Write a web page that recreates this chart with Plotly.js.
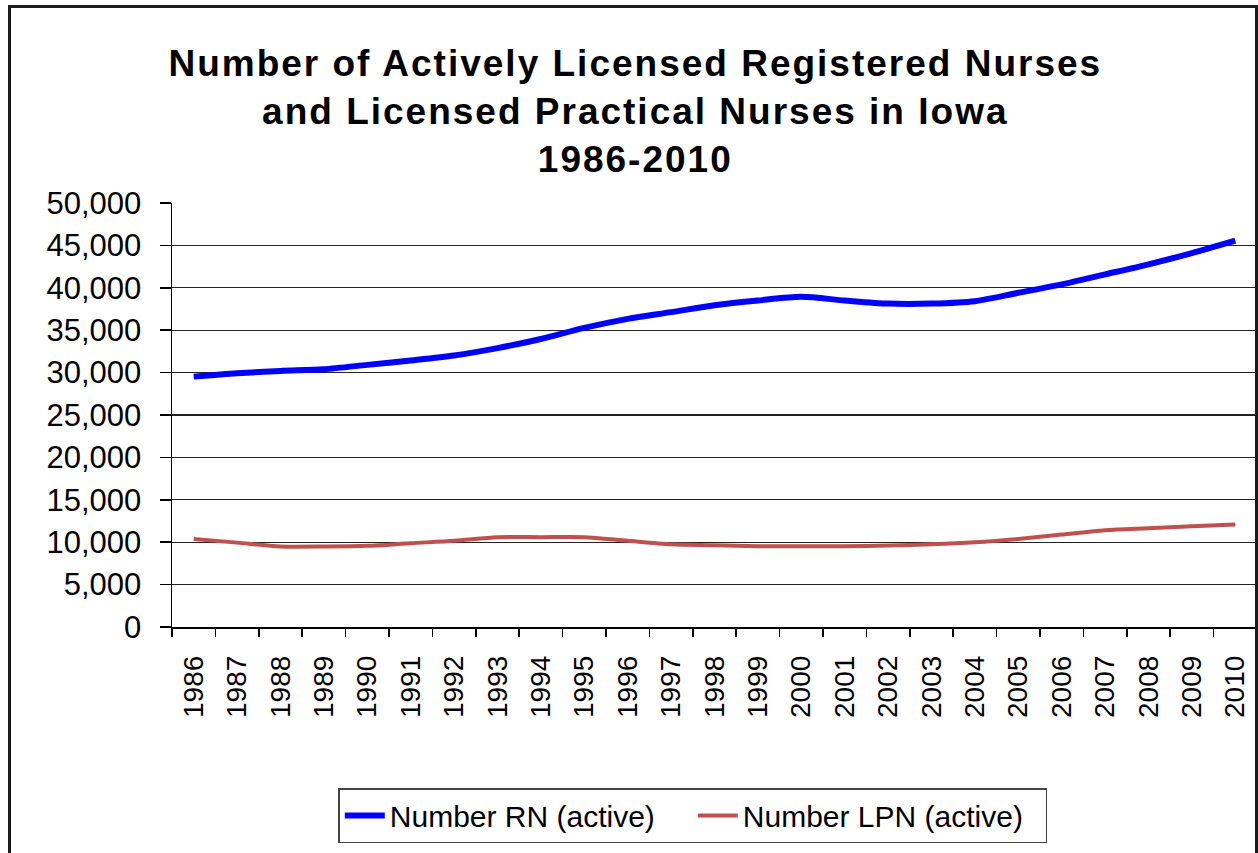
<!DOCTYPE html>
<html>
<head>
<meta charset="utf-8">
<script src="https://cdn.plot.ly/plotly-3.0.1.min.js"></script>
<style>
  html, body { margin: 0; padding: 0; background: #fff; }
  #wrap { position: relative; width: 1258px; height: 853px; overflow: hidden; }
  #chart { position: absolute; left: 0; top: 0; width: 1258px; height: 853px; }
  #frame { position: absolute; left: 8px; top: 5px; width: 1250px; height: 900px;
           border: 3px solid #1a1a1a; pointer-events: none; box-sizing: border-box; }
  #chart .gtitle { letter-spacing: 2px; }
</style>
</head>
<body>
<div id="wrap">
  <div id="chart"></div>
  <div id="frame"></div>
</div>
<script>
const years = ["1986","1987","1988","1989","1990","1991","1992","1993","1994","1995","1996","1997",
  "1998","1999","2000","2001","2002","2003","2004","2005","2006","2007","2008","2009","2010"];
const rnActive = [29525, 29920, 30200, 30400, 30910, 31430, 32020, 32890, 33960, 35270, 36340, 37130,
  37940, 38500, 38930, 38500, 38140, 38140, 38420, 39410, 40400, 41580, 42770, 44100, 45560];
const lpnActive = [10390, 9950, 9490, 9490, 9570, 9880, 10160, 10590, 10590, 10590, 10160, 9760,
  9650, 9530, 9530, 9530, 9610, 9760, 10000, 10390, 10900, 11410, 11650, 11880, 12080];
const seriesNames = ["Number RN (active)", "Number LPN (active)"];
const titleText = "Number of Actively Licensed Registered Nurses<br>and Licensed Practical Nurses in Iowa<br>1986-2010";

const FONT = "Liberation Sans, Arial, sans-serif";

const traces = [
  { x: years, y: rnActive, name: seriesNames[0], type: "scatter", mode: "lines",
    line: { color: "#0000FF", width: 6, shape: "spline", smoothing: 0.8 } },
  { x: years, y: lpnActive, name: seriesNames[1], type: "scatter", mode: "lines",
    line: { color: "#C0504D", width: 4, shape: "spline", smoothing: 0.8 } }
];

const layout = {
  width: 1258, height: 853,
  margin: { l: 172, r: 1, t: 203, b: 226 },
  paper_bgcolor: "#fff", plot_bgcolor: "#fff",
  font: { family: FONT, color: "#000" },
  title: {
    text: titleText,
    font: { family: FONT, size: 37, color: "#000", weight: "bold" },
    x: 0.505, xref: "container", xanchor: "center",
    y: 0.958 - 40/853, yref: "container", yanchor: "top"
  },
  xaxis: {
    type: "category", range: [-0.5, 24.5],
    showgrid: false, showline: true, linecolor: "#000", linewidth: 1.5,
    ticks: "outside", ticklen: 8, tickcolor: "#000", tickwidth: 1.5,
    tickson: "boundaries",
    tickangle: -90, tickfont: { family: FONT, size: 28, color: "#000" },
    ticklabelstandoff: 16,
    zeroline: false, fixedrange: true
  },
  yaxis: {
    range: [0, 50000], dtick: 5000, tick0: 0,
    tickformat: ",d",
    showgrid: true, gridcolor: "#222", gridwidth: 1.2,
    showline: true, linecolor: "#000", linewidth: 1.5,
    ticks: "outside", ticklen: 11, tickcolor: "#000", tickwidth: 1.5,
    tickfont: { family: FONT, size: 31, color: "#000" },
    ticklabelstandoff: 12,
    zeroline: false, fixedrange: true
  },
  showlegend: true,
  legend: {
    orientation: "h",
    x: 0.48, xanchor: "center",
    y: -0.38, yanchor: "top",
    bordercolor: "#444", borderwidth: 1.5, bgcolor: "#fff",
    font: { family: FONT, size: 30, color: "#000" },
    itemwidth: 40,
    entrywidth: 298,
    tracegroupgap: 0
  }
};

Plotly.newPlot("chart", traces, layout, { staticPlot: true, displayModeBar: false });
</script>
</body>
</html>
